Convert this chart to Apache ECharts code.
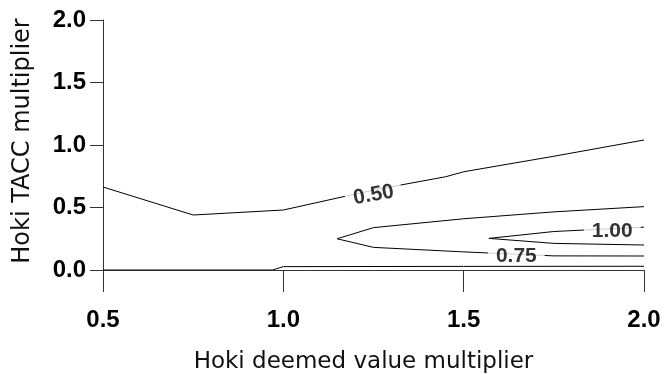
<!DOCTYPE html>
<html>
<head>
<meta charset="utf-8">
<script src="https://cdn.jsdelivr.net/npm/echarts@6/dist/echarts.min.js"></script>
<style>
html,body{margin:0;padding:0;background:#fff;}
#chart{width:666px;height:374px;}
</style>
</head>
<body>
<div id="chart"></div>
<script>
// Contour lines (x = deemed value multiplier, y = TACC multiplier)
const contour025 = [[0.5, 0.0], [0.97, 0.0], [1.0, 0.027], [1.5, 0.029], [2.0, 0.03]];
const contour050 = [[0.5, 0.664], [0.75, 0.44], [1.0, 0.48], [1.25, 0.64], [1.45, 0.746], [1.5, 0.786], [1.75, 0.91], [2.0, 1.04]];
const contour075 = [[2.0, 0.507], [1.75, 0.465], [1.5, 0.41], [1.25, 0.339], [1.149, 0.25], [1.25, 0.181], [1.5, 0.145], [1.75, 0.113], [2.0, 0.112]];
const contour100 = [[2.0, 0.343], [1.75, 0.308], [1.57, 0.253], [1.75, 0.213], [2.0, 0.2]];

// Contour labels
const labelTexts = ['0.50', '0.75', '1.00'];
const labelX = [1.25, 1.646, 1.912];
const labelY = [0.6, 0.107, 0.312];

const xTicks = [0.5, 1.0, 1.5, 2.0];
const yTicks = [0.0, 0.5, 1.0, 1.5, 2.0];

const labelRotations = [10, 0, 0];

const chart = echarts.init(document.getElementById('chart'), null, {renderer: 'canvas'});

function lineSeries(data) {
  return {
    type: 'line', data: data, showSymbol: false, symbol: 'none', silent: true,
    lineStyle: {color: '#000', width: 1}, z: 2, animation: false
  };
}

const labelData = labelTexts.map((t, i) => ({
  value: [labelX[i], labelY[i]],
  name: t,
  label: {rotate: labelRotations[i]}
}));

const option = {
  backgroundColor: '#fff',
  animation: false,
  grid: {left: 103, right: 22, top: 20, bottom: 104, containLabel: false, outerBoundsMode: 'none'},
  xAxis: {
    type: 'value', min: xTicks[0], max: xTicks[xTicks.length - 1], interval: 0.5,
    name: 'Hoki deemed value multiplier',
    nameLocation: 'middle', nameGap: 81,
    nameTextStyle: {fontFamily: 'DejaVu Sans', fontSize: 23, color: '#111', padding: [0, 20, 0, 0]},
    axisLine: {show: true, onZero: false, lineStyle: {color: '#333', width: 1}},
    axisTick: {show: true, length: 22, lineStyle: {color: '#333', width: 1}},
    axisLabel: {
      margin: 38, fontFamily: 'Liberation Sans', fontWeight: 'bold', fontSize: 24, color: '#000',
      formatter: v => v.toFixed(1)
    },
    splitLine: {show: false}
  },
  yAxis: {
    type: 'value', min: yTicks[0], max: yTicks[yTicks.length - 1], interval: 0.5,
    name: 'Hoki TACC multiplier',
    nameLocation: 'middle', nameGap: 68,
    nameTextStyle: {fontFamily: 'DejaVu Sans', fontSize: 24, color: '#111', padding: [0, 0, 0, 8]},
    axisLine: {show: true, onZero: false, lineStyle: {color: '#333', width: 1}},
    axisTick: {show: true, length: 13, lineStyle: {color: '#333', width: 1}},
    axisLabel: {
      margin: 17, fontFamily: 'Liberation Sans', fontWeight: 'bold', fontSize: 24, color: '#000',
      padding: [6, 0, 0, 0],
      formatter: v => v.toFixed(1)
    },
    splitLine: {show: false}
  },
  series: [
    lineSeries(contour025),
    lineSeries(contour050),
    lineSeries(contour075),
    lineSeries(contour100),
    {
      type: 'scatter', data: labelData, symbol: 'circle', symbolSize: 1, silent: true, z: 5,
      itemStyle: {color: 'rgba(0,0,0,0)'},
      label: {
        show: true, position: 'inside', formatter: p => p.name,
        fontFamily: 'Liberation Sans', fontWeight: 'bold', fontSize: 21, color: '#000',
        textBorderWidth: 0, backgroundColor: '#fff', padding: [0, 8], lineHeight: 16
      }
    }
  ]
};
chart.setOption(option);
</script>
</body>
</html>
